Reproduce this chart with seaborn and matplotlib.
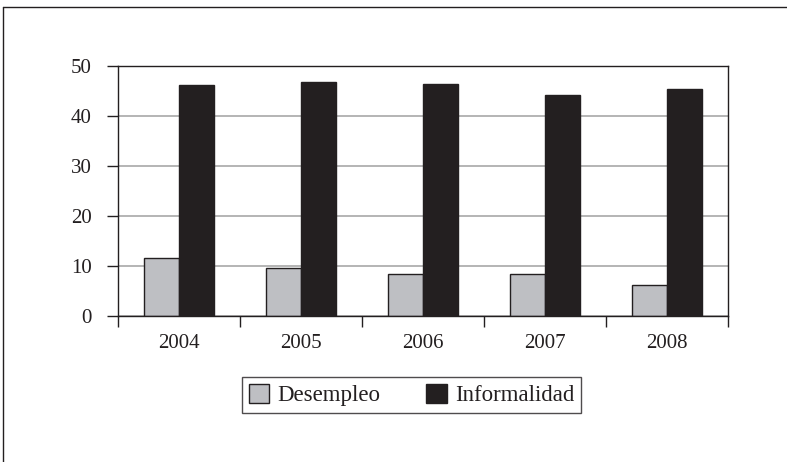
import matplotlib
matplotlib.use("Agg")
import matplotlib.pyplot as plt
from matplotlib.lines import Line2D
import seaborn as sns
import pandas as pd

years = ["2004", "2005", "2006", "2007", "2008"]
desempleo = [11.6, 9.7, 8.5, 8.5, 6.2]
informalidad = [46.1, 46.8, 46.4, 44.2, 45.3]
series_names = ["Desempleo", "Informalidad"]
y_ticks = [0, 10, 20, 30, 40, 50]

df = pd.DataFrame({
    "year": years * 2,
    "value": desempleo + informalidad,
    "serie": [series_names[0]] * len(years) + [series_names[1]] * len(years),
})

sns.set_style("white")
plt.rcParams["font.family"] = ["Liberation Serif", "DejaVu Serif"]

fig = plt.figure(figsize=(7.87, 4.62), dpi=100)
ax = fig.add_axes([118 / 787, 1 - 316 / 462, 610 / 787, 250 / 462])

colors = {"Desempleo": "#bebfc3", "Informalidad": "#231f20"}
sns.barplot(data=df, x="year", y="value", hue="serie", order=years,
            hue_order=series_names, palette=colors, width=0.574,
            edgecolor="#231f20", linewidth=1.0, saturation=1, ax=ax,
            legend=False)

ax.set_ylim(0, 50)
ax.set_xlim(-0.5, len(years) - 0.5)
ax.set_yticks(y_ticks)
ax.yaxis.grid(True, color="#a8a8a8", linewidth=1.2)
ax.set_axisbelow(True)
ax.set_xlabel("")
ax.set_ylabel("")

for s in ax.spines.values():
    s.set_color("#231f20")
    s.set_linewidth(1.0)

ax.set_xticks([i - 0.5 for i in range(len(years) + 1)], minor=True)
ax.tick_params(axis="x", which="major", bottom=True, length=0, pad=13,
               labelsize=15, labelcolor="#231f20")
ax.tick_params(axis="x", which="minor", bottom=True, length=8, width=1.0,
               color="#231f20", direction="out")
ax.tick_params(axis="y", left=True, length=8, width=1.0, color="#231f20",
               direction="out", pad=11, labelsize=15, labelcolor="#231f20")

handles = [plt.Rectangle((0, 0), 1, 1, facecolor=colors[n],
                         edgecolor="#231f20", linewidth=1.0)
           for n in series_names]
leg = fig.legend(handles, series_names, loc="center",
                 bbox_to_anchor=(411.5 / 787, 1 - 395 / 462), ncol=2,
                 frameon=True, fancybox=False, edgecolor="#231f20",
                 fontsize=16.5, handlelength=0.9, handleheight=0.9,
                 handletextpad=0.35, columnspacing=2.0, borderpad=0.3)
leg.get_frame().set_linewidth(1.0)
for t in leg.get_texts():
    t.set_color("#231f20")

# outer frame (only left and top visible)
fx = 3 / 787
fy = 1 - 7 / 462
fig.add_artist(Line2D([fx, fx], [0, fy], color="#231f20", linewidth=1.0,
                      transform=fig.transFigure))
fig.add_artist(Line2D([fx, 1], [fy, fy], color="#231f20", linewidth=1.0,
                      transform=fig.transFigure))

fig.savefig("out.png", dpi=100)
